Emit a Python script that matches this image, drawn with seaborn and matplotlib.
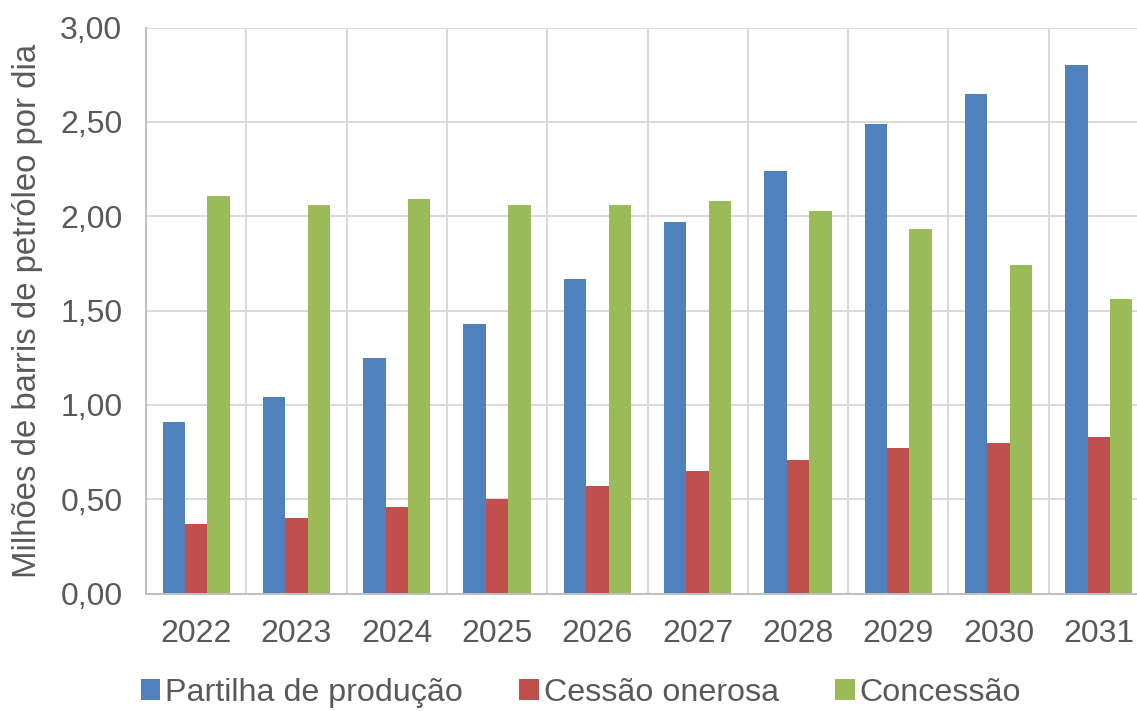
import matplotlib
matplotlib.use("Agg")
import matplotlib.pyplot as plt
from matplotlib.ticker import FuncFormatter, MultipleLocator, FixedLocator
import seaborn as sns
import pandas as pd

# Production forecast by contract regime (million barrels of oil per day)
anos = ["2022", "2023", "2024", "2025", "2026", "2027", "2028", "2029", "2030", "2031"]
partilha = [0.91, 1.04, 1.25, 1.43, 1.67, 1.97, 2.24, 2.49, 2.65, 2.80]
cessao = [0.37, 0.40, 0.46, 0.50, 0.57, 0.65, 0.71, 0.77, 0.80, 0.83]
concessao = [2.11, 2.06, 2.09, 2.06, 2.06, 2.08, 2.03, 1.93, 1.74, 1.56]
series = ["Partilha de produção", "Cessão onerosa", "Concessão"]
cores = ["#4f81bd", "#c0504d", "#9bbb59"]

df = pd.DataFrame({
    "ano": anos * 3,
    "regime": [series[0]] * 10 + [series[1]] * 10 + [series[2]] * 10,
    "valor": partilha + cessao + concessao,
})

sns.set_theme(style="white")
plt.rcParams["font.family"] = ["Liberation Sans", "DejaVu Sans"]
texto = "#595959"
grade = "#d9d9d9"

fig = plt.figure(figsize=(11.37, 7.11), dpi=100)
W, H = 1137, 711
x0, x1 = 146, 1149
y_top, y_bot = 27.6, 593.6
ax = fig.add_axes([x0 / W, 1 - y_bot / H, (x1 - x0) / W, (y_bot - y_top) / H])

sns.barplot(data=df, x="ano", y="valor", hue="regime", hue_order=series,
            palette=cores, width=0.67, gap=0, saturation=1, linewidth=0,
            ax=ax, legend=True)

ax.set_xlim(-0.5, len(anos) - 0.5)
ax.set_ylim(0, 3.0)
ax.yaxis.set_major_locator(MultipleLocator(0.5))
ax.yaxis.set_major_formatter(FuncFormatter(lambda v, p: f"{v:.2f}".replace(".", ",")))
ax.xaxis.set_minor_locator(FixedLocator([i - 0.5 for i in range(len(anos) + 1)]))

ax.grid(axis="y", which="major", color=grade, linewidth=1.4)
ax.grid(axis="x", which="minor", color=grade, linewidth=1.4)
ax.grid(axis="x", which="major", visible=False)
ax.set_axisbelow(True)

for s in ["top", "right"]:
    ax.spines[s].set_visible(False)
for s in ["left", "bottom"]:
    ax.spines[s].set_color("#bfbfbf")
    ax.spines[s].set_linewidth(1.4)

ax.tick_params(axis="both", which="both", length=0, labelsize=23, labelcolor=texto)
ax.tick_params(axis="y", pad=17)
ax.tick_params(axis="x", pad=18)
ax.set_xlabel("")
ax.set_ylabel("Milhões de barris de petróleo por dia", fontsize=23.7, color=texto)
ax.yaxis.set_label_coords((43 - x0) / (x1 - x0), 0.5)

handles, labels = ax.get_legend_handles_labels()
ax.legend_.remove()
fig.legend(handles, labels, loc="center", bbox_to_anchor=(581 / W, 1 - 693 / H),
           ncol=3, frameon=False, fontsize=23.2, labelcolor=texto,
           handlelength=0.6, handleheight=0.6, handletextpad=0.16,
           columnspacing=1.75, borderpad=0)

fig.savefig("out.png", dpi=100)
